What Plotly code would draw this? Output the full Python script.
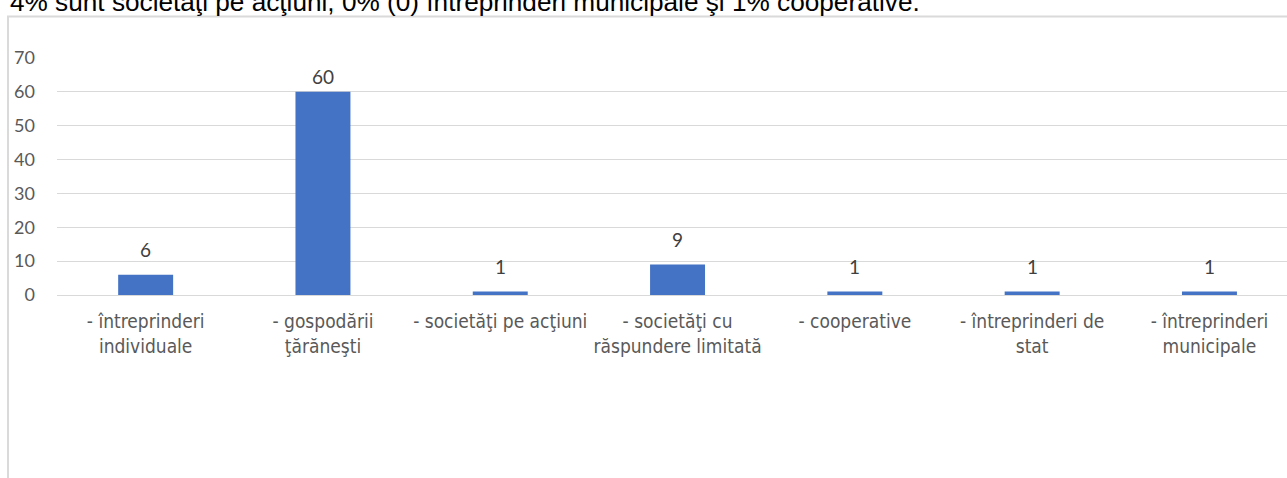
import plotly.graph_objects as go

categories = [
    "- întreprinderi<br>individuale",
    "- gospodării<br>ţărăneşti",
    "- societăţi pe acţiuni",
    "- societăţi cu<br>răspundere limitată",
    "- cooperative",
    "- întreprinderi de<br>stat",
    "- întreprinderi<br>municipale",
]
values = [6, 60, 1, 9, 1, 1, 1]
y_ticks = [0, 10, 20, 30, 40, 50, 60, 70]
title_text = "4% sunt societăţi pe acţiuni, 0% (0) întreprinderi municipale şi 1% cooperative."

W, H = 1287, 478
ML, MR, MT, MB = 57, 0, 58, 183
plot_w = W - ML - MR
plot_h = H - MT - MB
ymax = 70
ppu = plot_h / ymax
cat_px = 177.3
x_hi = -0.5 + plot_w / cat_px

BAR = "#4472C4"
GRID = "#D9D9D9"

fig = go.Figure()
fig.add_trace(go.Bar(
    x=list(range(len(categories))), y=values,
    marker=dict(color=BAR, line=dict(width=0)),
    width=0.31, hoverinfo="skip",
))

# data labels
label_off = 25 / ppu
label_cap = ymax - 18 / ppu
for i, v in enumerate(values):
    fig.add_annotation(
        x=i, y=min(v + label_off, label_cap), xref="x", yref="y",
        text=str(v), showarrow=False, yanchor="middle",
        font=dict(family="Lato, Open Sans, sans-serif", size=19, color="#404040"),
    )

# outer frame
fx = (8 - ML) / plot_w
fy = 1 + (MT - 16.5) / plot_h
fig.add_shape(type="rect", xref="paper", yref="paper",
              x0=fx, x1=1.05, y0=-1.0, y1=fy,
              line=dict(color="#DADADA", width=2), fillcolor="rgba(0,0,0,0)", layer="below")

# cut-off text line above the chart
fig.add_annotation(
    x=fx, y=1 + (MT - 2) / plot_h, xref="paper", yref="paper",
    xanchor="left", yanchor="middle", showarrow=False, text=title_text,
    font=dict(family="Liberation Sans, Arial, sans-serif", size=26.2, color="#000000"),
)

fig.update_layout(
    width=W, height=H,
    margin=dict(l=ML, r=MR, t=MT, b=MB, pad=0),
    paper_bgcolor="white", plot_bgcolor="white",
    showlegend=False,
    xaxis=dict(
        range=[-0.5, x_hi], tickmode="array",
        tickvals=list(range(len(categories))), ticktext=categories,
        showgrid=False, zeroline=False, showline=False, ticks="",
        tickfont=dict(family="Liberation Sans Narrow, Arial Narrow, DejaVu Sans Condensed, sans-serif",
                      size=19, color="#595959"),
        ticklabelstandoff=13,
    ),
    yaxis=dict(
        range=[0, ymax], tickvals=y_ticks, showgrid=True, gridcolor=GRID, gridwidth=1,
        zeroline=True, zerolinecolor=GRID, zerolinewidth=1, showline=False, ticks="",
        tickfont=dict(family="Lato, Open Sans, sans-serif", size=18, color="#595959"),
        ticklabelstandoff=21,
    ),
)

fig.write_html("out.html", config={"displayModeBar": False},
               post_script="document.body.style.margin='0';document.body.style.overflow='hidden';")
